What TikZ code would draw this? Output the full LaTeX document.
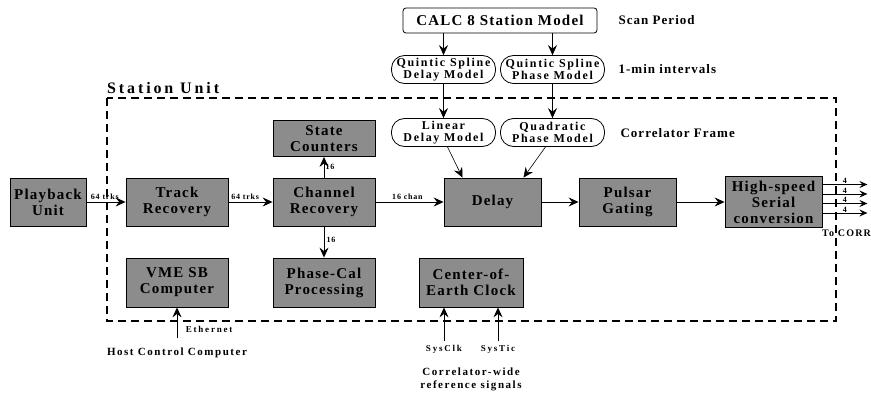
\documentclass[tikz,border=0pt]{standalone}
\usepackage{fontspec}
\setmainfont{Liberation Serif}
\usetikzlibrary{arrows.meta}
\newcommand{\unitfont}{\bfseries\fontsize{15}{16}\selectfont\addfontfeatures{LetterSpace=8}}
\newcommand{\modelfont}{\bfseries\fontsize{12}{12.5}\selectfont\addfontfeatures{LetterSpace=14}}
\newcommand{\calcfont}{\bfseries\fontsize{15}{16}\selectfont\addfontfeatures{LetterSpace=8}}
\newcommand{\notefont}{\bfseries\fontsize{13}{14}\selectfont\addfontfeatures{LetterSpace=8}}
\newcommand{\titlefont}{\bfseries\fontsize{16}{18}\selectfont\addfontfeatures{LetterSpace=18}}
\newcommand{\tinyfont}{\bfseries\fontsize{8}{9}\selectfont\addfontfeatures{LetterSpace=10}}
\newcommand{\signalfont}{\bfseries\fontsize{9}{10}\selectfont\addfontfeatures{LetterSpace=20}}
\newcommand{\footfont}{\bfseries\fontsize{11}{13}\selectfont\addfontfeatures{LetterSpace=14}}
\newcommand{\corrfont}{\bfseries\fontsize{10}{11}\selectfont\addfontfeatures{LetterSpace=12}}
\tikzstyle{unit} = [rectangle, minimum width = 102pt, minimum height = 48pt,
  align = center, inner sep = 0pt, draw = black, line width = 0.8pt,
  fill = black!45, font = \unitfont]
\tikzstyle{model} = [rectangle, rounded corners = 13pt, minimum width = 104pt,
  minimum height = 28pt, align = center, inner sep = 0pt, draw = black,
  line width = 0.8pt, fill = white, font = \modelfont]
\tikzstyle{calc} = [rectangle, rounded corners = 3pt, minimum width = 194pt,
  minimum height = 25pt, inner sep = 0pt, draw = black, line width = 0.8pt,
  fill = white, font = \calcfont]
\tikzstyle{note} = [anchor = west, font = \notefont]
\tikzstyle{arrow} = [line width = 1pt, ->, >={Stealth[length = 10pt, width = 9pt, inset = 3.5pt]}]
\tikzstyle{thin arrow} = [line width = 0.6pt, ->, >={Stealth[length = 10pt, width = 9pt, inset = 3.5pt]}]
\tikzstyle{boundary} = [line width = 1.4pt, dash pattern = on 8pt off 5pt]

\begin{document}
\begin{tikzpicture}[node distance = 140pt]
  \useasboundingbox (0pt, 0pt) rectangle (871pt, -396pt);
  \draw [boundary] (107pt, -98pt) rectangle (836pt, -321pt);
  \node (station-unit) [anchor = base west, inner sep = 0pt, font = \titlefont] at (107pt, -94pt) {Station Unit};

  \node (playback-unit) [unit, minimum width = 76pt] at (48pt, -202pt) {Playback\\Unit};
  \node (track-recovery) [unit, right of = playback-unit, xshift = -11pt] {Track\\Recovery};
  \node (channel-recovery) [unit, right of = track-recovery, xshift = 7pt] {Channel\\Recovery};
  \node (delay) [unit, right of = channel-recovery, xshift = 28.5pt, minimum width = 97pt] {Delay};
  \node (pulsar-gating) [unit, right of = delay, xshift = -5pt, minimum width = 97pt] {Pulsar\\Gating};
  \node (serial-conversion) [unit, right of = pulsar-gating, xshift = 6pt, minimum width = 97pt, minimum height = 51pt] {High-speed\\Serial\\conversion};
  \node (state-counters) [unit, above of = channel-recovery, yshift = -76.5pt, minimum height = 36pt] {State\\Counters};
  \node (phase-cal) [unit, below of = channel-recovery, yshift = 59.5pt, minimum height = 49pt] {Phase-Cal\\Processing};
  \node (vme-computer) [unit, below of = track-recovery, yshift = 59.5pt, minimum height = 49pt] {VME SB\\Computer};
  \node (earth-clock) [unit, right of = phase-cal, xshift = 7pt, minimum width = 104pt, minimum height = 49pt] {Center-of-\\Earth Clock};

  \node (calc-model) [calc] at (500pt, -20.5pt) {CALC 8 Station Model};
  \node (quintic-delay) [model] at (443.5pt, -69.5pt) {Quintic Spline\\Delay Model};
  \node (quintic-phase) [model, right of = quintic-delay, xshift = -31pt] {Quintic Spline\\Phase Model};
  \node (linear-delay) [model, below of = quintic-delay, yshift = 77pt] {Linear\\Delay Model};
  \node (quadratic-phase) [model, right of = linear-delay, xshift = -31pt] {Quadratic\\Phase Model};

  \node (scan-period) [note] at (615pt, -20.5pt) {Scan Period};
  \node (min-intervals) [note] at (615pt, -69.5pt) {1-min intervals};
  \node (correlator-frame) [note] at (617pt, -133pt) {Correlator Frame};

  \node (host-computer) [font = \footfont] at (177pt, -353pt) {Host Control Computer};
  \node (sys-clk) [font = \signalfont] at (444pt, -349pt) {SysClk};
  \node (sys-tic) [font = \signalfont] at (498pt, -349pt) {SysTic};
  \node (reference-signals) [align = center, font = \footfont] at (471pt, -379pt) {Correlator-wide\\reference signals};
  \node (to-corr) [anchor = west, inner sep = 0pt, font = \corrfont] at (822pt, -233pt) {To CORR};

  \draw [arrow] (playback-unit) -- node [above, pos = 0.47, inner sep = 1.5pt, font = \tinyfont] {64 trks} (track-recovery);
  \draw [arrow] (track-recovery) -- node [above, pos = 0.38, inner sep = 1.5pt, font = \tinyfont] {64 trks} (channel-recovery);
  \draw [arrow] (channel-recovery) -- node [right, pos = 0.5, inner sep = 1pt, font = \tinyfont] {16} (state-counters);
  \draw [arrow] (channel-recovery) -- node [right, pos = 0.42, inner sep = 2pt, font = \tinyfont] {16} (phase-cal);
  \draw [arrow] (channel-recovery) -- node [above, pos = 0.47, inner sep = 2pt, font = \tinyfont] {16 chan} (delay);
  \draw [arrow] (delay) -- (pulsar-gating);
  \draw [arrow] (pulsar-gating) -- (serial-conversion);
  \foreach \y in {17.5, 8, -1.5, -11}
    \draw [line width = 0.9pt, ->, >={Stealth[length = 8pt, width = 7pt, inset = 3pt]}] ([yshift = \y pt] serial-conversion.east) -- ++(45pt, 0pt)
      node [above, pos = 0.5, inner sep = 0.5pt, font = \tinyfont] {4};

  \draw [thin arrow] (calc-model.south -| quintic-delay) -- (quintic-delay);
  \draw [thin arrow] (calc-model.south -| quintic-phase) -- (quintic-phase);
  \draw [thin arrow] (quintic-delay) -- (linear-delay);
  \draw [thin arrow] (quintic-phase) -- (quadratic-phase);
  \draw [thin arrow] ([xshift = 4pt] linear-delay.south) -- ([xshift = -30pt] delay.north);
  \draw [thin arrow] ([xshift = -7pt] quadratic-phase.south) -- ([xshift = 31pt] delay.north);

  \draw [arrow] ([yshift = 6pt] host-computer.north) -- node [anchor = west, pos = 0.3, xshift = 5pt, font = \signalfont] {Ethernet} (vme-computer);
  \draw [arrow] (sys-clk.north) -- (sys-clk.north |- earth-clock.south);
  \draw [arrow] (sys-tic.north) -- (sys-tic.north |- earth-clock.south);
\end{tikzpicture}
\end{document}
